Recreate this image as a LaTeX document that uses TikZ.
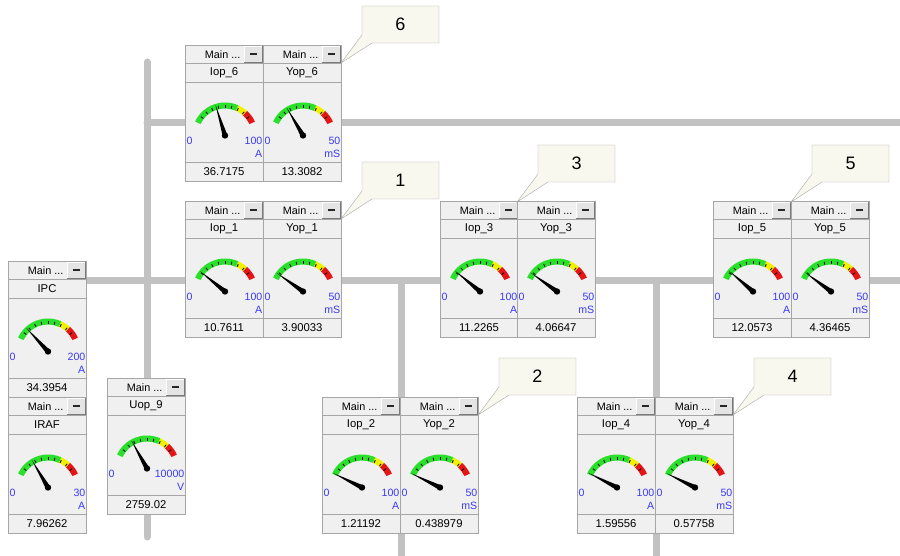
\documentclass[tikz,border=0pt]{standalone}
\usepackage{fontspec}
\setmainfont{Liberation Sans}
\definecolor{busc}{HTML}{C2C2C2}
\definecolor{panelbg}{HTML}{F0F0F0}
\definecolor{edgec}{HTML}{A6A6A6}
\definecolor{btnbg}{HTML}{E4E4E4}
\definecolor{btnsh}{HTML}{7A7A7A}
\definecolor{lblc}{HTML}{3A3AF5}
\definecolor{ggreen}{HTML}{2BE02B}
\definecolor{gyellow}{HTML}{F0F000}
\definecolor{gred}{HTML}{E51515}
\definecolor{tipbg}{HTML}{F8F8EE}
\definecolor{tipedge}{HTML}{A8A8A8}
\newcommand{\fsA}{\fontsize{10.8}{12}\selectfont}
\newcommand{\fsB}{\fontsize{11.3}{13}\selectfont}
\newcommand{\fsC}{\fontsize{10.6}{12}\selectfont}
\newcommand{\fsD}{\fontsize{18}{21}\selectfont}
\tikzset{
  busline/.style={busc,line width=7pt,line cap=round},
  wtext/.style={inner sep=0pt,font=\fsB},
  scalelbl/.style={inner sep=0pt,font=\fsC,text=lblc}
}
% widget: x, top y (px), name, value, max, unit
\newcommand{\gwid}[6]{%
\begin{scope}[shift={(#1,555-#2)}]
  \fill[panelbg] (0,0) rectangle (78,-136);
  \draw[edgec] (0,-18) -- (78,-18) (0,-37) -- (78,-37) (0,-117) -- (78,-117);
  \draw[edgec] (0,0) rectangle (78,-136);
  \fill[btnbg] (59,-1) rectangle (77,-17);
  \draw[white] (59,-17) -- (59,-1) -- (77,-1);
  \draw[btnsh] (59,-17) -- (77,-17) -- (77,-1);
  \fill[black!85] (64.5,-8.4) rectangle (71.5,-10.2);
  \node[anchor=east,inner sep=0pt,font=\fsA] at (55.5,-9.5) {Main ...};
  \node[wtext] at (39,-28) {#3};
  \node[wtext] at (39,-127) {#4};
  \node[scalelbl,anchor=west] at (1.5,-95.5) {0};
  \node[scalelbl,anchor=east] at (77.5,-95.5) {#5};
  \node[scalelbl,anchor=east] at (77.5,-108.5) {#6};
  \begin{scope}[shift={(40,-90.5)}]
    \fill[ggreen] (155:33) arc[start angle=155,end angle=66,radius=33] -- (66:27) arc[start angle=66,end angle=155,radius=27] -- cycle;
    \fill[gyellow] (66:33) arc[start angle=66,end angle=48,radius=33] -- (48:27) arc[start angle=48,end angle=66,radius=27] -- cycle;
    \fill[gred] (48:33) arc[start angle=48,end angle=25,radius=33] -- (25:27) arc[start angle=25,end angle=48,radius=27] -- cycle;
    \foreach \i in {1,...,9}{\draw[black,line width=0.8pt] ({155-13*\i}:27.5) -- ({155-13*\i}:30.5);}
    \pgfmathsetmacro\nfrac{#4/#5}
    \pgfmathsetmacro\nang{155-130*\nfrac}
    \fill[black] (\nang:32) -- ({\nang+90}:2.4) -- ({\nang+180}:1.5) -- ({\nang-90}:2.4) -- cycle;
    \fill[black] (0,0) circle (3.2);
  \end{scope}
\end{scope}}
% callout: tip x, tip y (px), number
\newcommand{\callout}[3]{%
\begin{scope}[shift={(#1,555-#2)}]
  \filldraw[fill=tipbg,draw=tipedge] (21,57) -- (98,57) -- (98,20) -- (31,20) -- (0,0) -- (21,28) -- cycle;
  \node[inner sep=0pt,font=\fsD] at (59.5,39) {#3};
\end{scope}}
\begin{document}
\begin{tikzpicture}[x=1pt,y=1pt]
\useasboundingbox (0,0) rectangle (900,555);
\fill[white] (0,0) rectangle (900,555);
% bus lines
\coordinate (v1t) at (147,555-62);
\coordinate (v1b) at (147,555-537);
\coordinate (h1l) at (147,555-123);
\coordinate (h1r) at (903,555-123);
\coordinate (h2l) at (86,555-281);
\coordinate (h2r) at (903,555-281);
\coordinate (v2t) at (401,555-281);
\coordinate (v2b) at (401,-5);
\coordinate (v3t) at (656,555-281);
\coordinate (v3b) at (656,-5);
\draw[busline] (v1t) -- (v1b);
\draw[busline] (h1l) -- (h1r);
\draw[busline,line cap=butt] (h2l) -- (h2r);
\draw[busline,line cap=butt] (v2t) -- (v2b);
\draw[busline,line cap=butt] (v3t) -- (v3b);
% widgets
\gwid{185}{45}{Iop\_6}{36.7175}{100}{A}
\gwid{263}{45}{Yop\_6}{13.3082}{50}{mS}
\gwid{185}{201}{Iop\_1}{10.7611}{100}{A}
\gwid{263}{201}{Yop\_1}{3.90033}{50}{mS}
\gwid{440}{201}{Iop\_3}{11.2265}{100}{A}
\gwid{517}{201}{Yop\_3}{4.06647}{50}{mS}
\gwid{713}{201}{Iop\_5}{12.0573}{100}{A}
\gwid{791}{201}{Yop\_5}{4.36465}{50}{mS}
\gwid{322}{397}{Iop\_2}{1.21192}{100}{A}
\gwid{400}{397}{Yop\_2}{0.438979}{50}{mS}
\gwid{577}{397}{Iop\_4}{1.59556}{100}{A}
\gwid{655}{397}{Yop\_4}{0.57758}{50}{mS}
\gwid{8}{261}{IPC}{34.3954}{200}{A}
\gwid{8}{397}{IRAF}{7.96262}{30}{A}
\gwid{107}{378}{Uop\_9}{2759.02}{10000}{V}
% callouts
\callout{341}{63}{6}
\callout{341}{219}{1}
\callout{517}{202}{3}
\callout{791}{202}{5}
\callout{478}{415}{2}
\callout{733}{415}{4}
\end{tikzpicture}
\end{document}
